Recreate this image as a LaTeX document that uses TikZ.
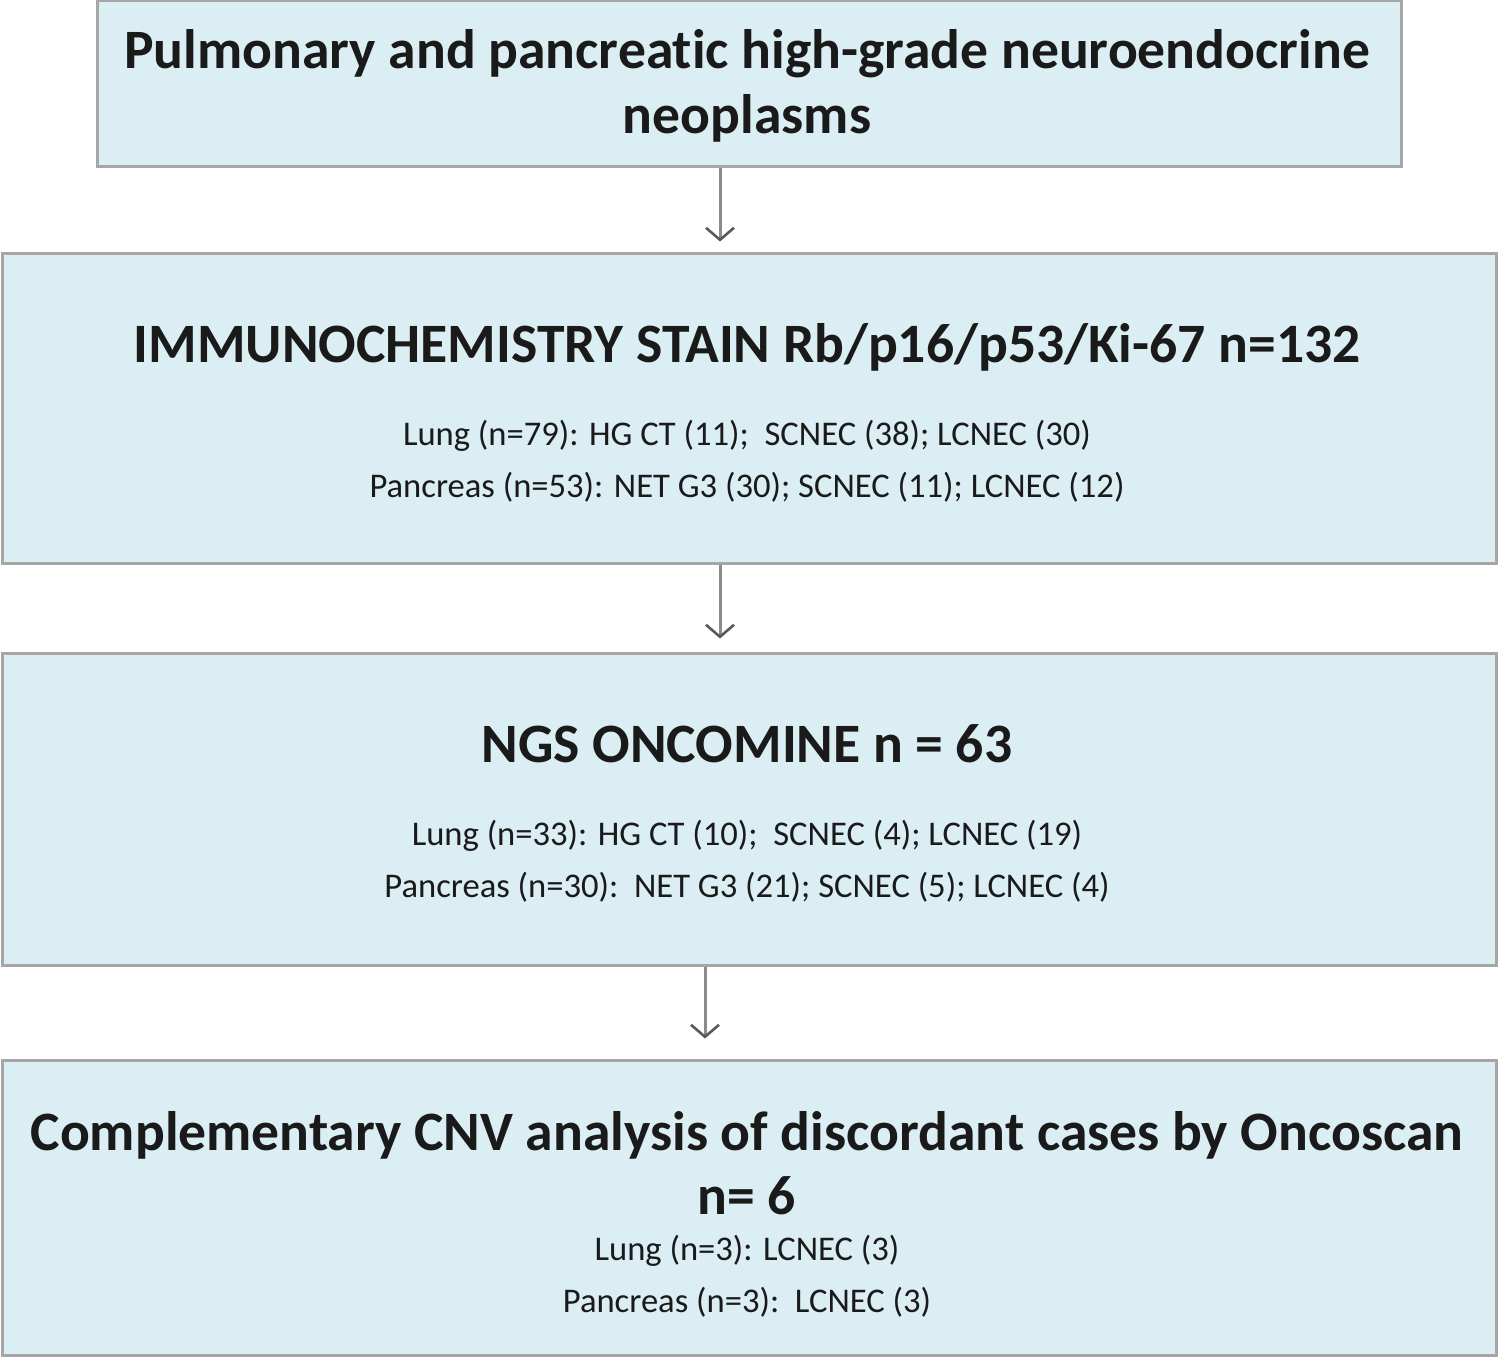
\documentclass[tikz,border=0pt]{standalone}
\usepackage{fontspec}
\setmainfont{Carlito}[Ligatures={NoCommon}]
\usetikzlibrary{arrows.meta}
\definecolor{boxfill}{HTML}{DBEEF3}
\definecolor{boxline}{HTML}{A6A6A6}
\definecolor{arrline}{HTML}{8C8C8C}
\definecolor{txt}{HTML}{1A1A1A}
\tikzset{
  box/.style={draw=boxline, line width=1.5pt, fill=boxfill, inner sep=0pt},
  head/.style={anchor=base, text=txt, font=\bfseries\fontsize{27.8}{33}\selectfont, inner sep=0pt},
  sub/.style={anchor=base, text=txt, font=\fontsize{17.3}{20}\selectfont, inner sep=0pt},
  arr/.style={draw=arrline, line width=1.5pt, -{Straight Barb[length=6pt,width=14pt,line width=1.3pt,color=black!65]}},
}
\begin{document}
\begin{tikzpicture}[x=0.5pt,y=-0.5pt]
\useasboundingbox (0,0) rectangle (1498,1357);
% boxes
\node[box, minimum width=652pt, minimum height=83pt] (b1) at (749,83) {};
\node[box, minimum width=747pt, minimum height=155pt] (b2) at (749,408) {};
\node[box, minimum width=747pt, minimum height=156pt] (b3) at (749,809) {};
\node[box, minimum width=747pt, minimum height=147.5pt] (b4) at (749,1207.5) {};
% texts
\node[head] (t1a) at (747,68) {Pulmonary and pancreatic high-grade neuroendocrine};
\node[head] (t1b) at (747,133) {neoplasms};
\node[head] (t2) at (747,362) {IMMUNOCHEMISTRY STAIN Rb/p16/p53/Ki-67 n=132};
\node[sub] (t2a) at (747,445) {Lung (n=79): HG CT (11);\ \ SCNEC (38); LCNEC (30)};
\node[sub] (t2b) at (747,497) {Pancreas (n=53): NET G3 (30); SCNEC (11); LCNEC (12)};
\node[head] (t3) at (747,762) {NGS ONCOMINE n = 63};
\node[sub] (t3a) at (747,845) {Lung (n=33): HG CT (10);\ \ SCNEC (4); LCNEC (19)};
\node[sub] (t3b) at (747,897) {Pancreas (n=30):\ \ NET G3 (21); SCNEC (5); LCNEC (4)};
\node[head] (t4a) at (747,1150) {Complementary CNV analysis of discordant cases by Oncoscan};
\node[head] (t4b) at (747,1214) {n= 6};
\node[sub] (t4c) at (747,1260) {Lung (n=3): LCNEC (3)};
\node[sub] (t4d) at (747,1312) {Pancreas (n=3):\ \ LCNEC (3)};
% arrows
\draw[arr, shorten >=5pt] ([xshift=-14.5pt]b1.south) -- ([xshift=-14.5pt]b2.north);
\draw[arr, shorten >=6.5pt] ([xshift=-14.5pt]b2.south) -- ([xshift=-14.5pt]b3.north);
\draw[arr, shorten >=10pt] ([xshift=-22pt]b3.south) -- ([xshift=-22pt]b4.north);
\end{tikzpicture}
\end{document}
